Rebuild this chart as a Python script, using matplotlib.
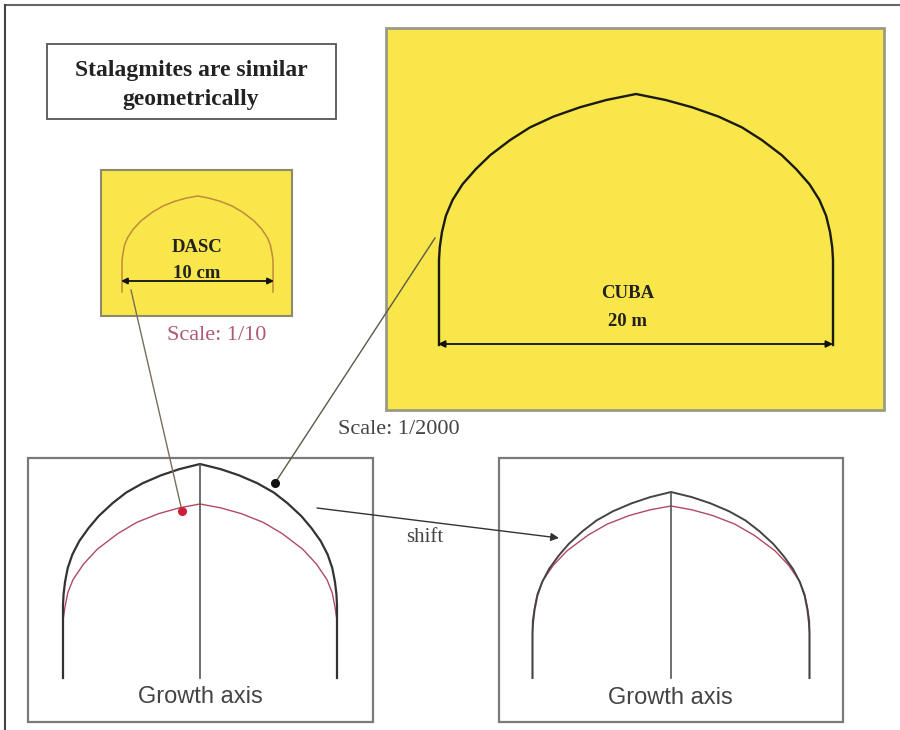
"""
Sketch of the stalagmite similarity figure: two yellow profile boxes on top,
two comparison panels with growth axes below.
"""
import numpy as np
import matplotlib.pyplot as plt
from matplotlib.patches import Rectangle

# ===== Profile data (normalised half-profile: u = distance from axis, v = height) =====
cuba_u = [0.0, 0.151, 0.285, 0.419, 0.538, 0.638, 0.739, 0.814, 0.881, 0.931,
          0.965, 0.985, 0.996, 1.0, 1.0]
cuba_v = [1.0, 0.976, 0.947, 0.910, 0.867, 0.817, 0.757, 0.700, 0.640, 0.578,
          0.515, 0.450, 0.390, 0.340, 0.0]

dasc_u = [0.0, 0.15, 0.30, 0.46, 0.60, 0.75, 0.85, 0.927, 0.965, 0.985, 1.0, 1.0]
dasc_v = [1.0, 0.978, 0.945, 0.895, 0.83, 0.74, 0.655, 0.565, 0.49, 0.41, 0.33, 0.0]

# labels
title_text = "Stalagmites are similar\ngeometrically"
dasc_label = ["DASC", "10 cm"]
cuba_label = ["CUBA", "20 m"]
scale_small = "Scale: 1/10"
scale_big = "Scale: 1/2000"
shift_label = "shift"
axis_label = "Growth axis"

SERIF = ["Liberation Serif", "DejaVu Serif"]
SANS = ["Liberation Sans", "DejaVu Sans"]
YELLOW = "#f8e64a"


def full_profile(u, v, cx, hw, bottom, h, shift=0.0):
    """Turn a normalised half profile into pixel coords of the whole outline."""
    u = np.asarray(u)
    v = np.asarray(v)
    xs = np.concatenate([cx - hw * u[::-1], cx + hw * u[1:]])
    vs = np.concatenate([v[::-1], v[1:]])
    ys = np.minimum(bottom - vs * h + shift, bottom)
    return xs, ys


fig = plt.figure(figsize=(9, 7.3), dpi=100)
ax = fig.add_axes([0, 0, 1, 1])
ax.set_xlim(0, 900)
ax.set_ylim(730, 0)
ax.axis("off")

# outer frame (only top and left edges are visible)
ax.plot([5, 900], [5, 5], color="#666666", lw=1.5)
ax.plot([5, 5], [5, 730], color="#444444", lw=1.5)

# ===== Title box =====
ax.add_patch(Rectangle((47, 44), 289, 75, fc="white", ec="#555555", lw=1.3))
ax.text(191, 85, title_text, ha="center", va="center", family=SERIF,
        fontweight="bold", fontsize=17, color="#222222", linespacing=1.55)

# ===== DASC box =====
ax.add_patch(Rectangle((101, 170), 191, 146, fc=YELLOW, ec="#8c8a6a", lw=1.5))
x, y = full_profile(dasc_u, dasc_v, 197.5, 75.5, 292, 96)
ax.plot(x, y, color="#c08a3a", lw=1.1)
ax.annotate("", xy=(121, 281), xytext=(274, 281),
            arrowprops=dict(arrowstyle="<|-|>", color="#111111", lw=1.3,
                            mutation_scale=9, shrinkA=0, shrinkB=0))
ax.text(197, 247, dasc_label[0], ha="center", va="center", family=SERIF,
        fontweight="bold", fontsize=13.5, color="#222222")
ax.text(197, 273, dasc_label[1], ha="center", va="center", family=SERIF,
        fontweight="bold", fontsize=13.5, color="#222222")
ax.text(217, 335, scale_small, ha="center", va="center", family=SERIF,
        fontsize=16, color="#b05878")

# ===== CUBA box =====
ax.add_patch(Rectangle((386, 28), 498, 382, fc=YELLOW, ec="#9a9a86", lw=2))
x, y = full_profile(cuba_u, cuba_v, 636, 197, 345, 251)
ax.plot(x, y, color="#1a1a10", lw=1.7)
ax.annotate("", xy=(438, 344), xytext=(833, 344),
            arrowprops=dict(arrowstyle="<|-|>", color="#111111", lw=1.3,
                            mutation_scale=10, shrinkA=0, shrinkB=0))
ax.text(628, 293, cuba_label[0], ha="center", va="center", family=SERIF,
        fontweight="bold", fontsize=13.5, color="#222222")
ax.text(628, 322, cuba_label[1], ha="center", va="center", family=SERIF,
        fontweight="bold", fontsize=13.5, color="#222222")
ax.text(399, 430, scale_big, ha="center", va="center", family=SERIF,
        fontsize=16, color="#444444")

# ===== Bottom-left panel: both profiles scaled to the same width =====
ax.add_patch(Rectangle((28, 458), 345, 264, fc="white", ec="#7a7a7a", lw=1.6))
x, y = full_profile(dasc_u, dasc_v, 200, 137, 678, 174)
ax.plot(x, y, color="#b04a64", lw=1.0)
x, y = full_profile(cuba_u, cuba_v, 200, 137, 678, 214)
ax.plot(x, y, color="#333333", lw=1.6)
ax.plot([200, 200], [464, 678], color="#555555", lw=1.2)
ax.text(200, 697, axis_label, ha="center", va="center", family=SANS,
        fontsize=17, color="#444444")

# ===== Bottom-right panel: larger profile shifted down =====
ax.add_patch(Rectangle((499, 458), 344, 264, fc="white", ec="#7a7a7a", lw=1.6))
x, y = full_profile(dasc_u, dasc_v, 671, 138.5, 678, 172)
ax.plot(x, y, color="#b04a64", lw=1.0)
x, y = full_profile(cuba_u, cuba_v, 671, 138.5, 678, 214, shift=28)
ax.plot(x, y, color="#444444", lw=1.4)
ax.plot([671, 671], [492, 678], color="#555555", lw=1.2)
ax.text(670, 698, axis_label, ha="center", va="center", family=SANS,
        fontsize=17, color="#444444")

# ===== Connectors =====
ax.plot([131, 182], [290, 511], color="#7a6e5a", lw=1.0)
ax.plot(182, 511, "o", color="#cc2038", ms=5.5)
ax.plot([435, 275], [238, 483], color="#5a5a48", lw=1.0)
ax.plot(275, 483, "o", color="#111111", ms=5.5)
ax.annotate("", xy=(559, 538), xytext=(317, 508),
            arrowprops=dict(arrowstyle="-|>", color="#333333", lw=1.0,
                            mutation_scale=12, shrinkA=0, shrinkB=0))
ax.text(425, 537, shift_label, ha="center", va="center", family=SERIF,
        fontsize=15, color="#444444")

fig.savefig("out.png", dpi=100)
